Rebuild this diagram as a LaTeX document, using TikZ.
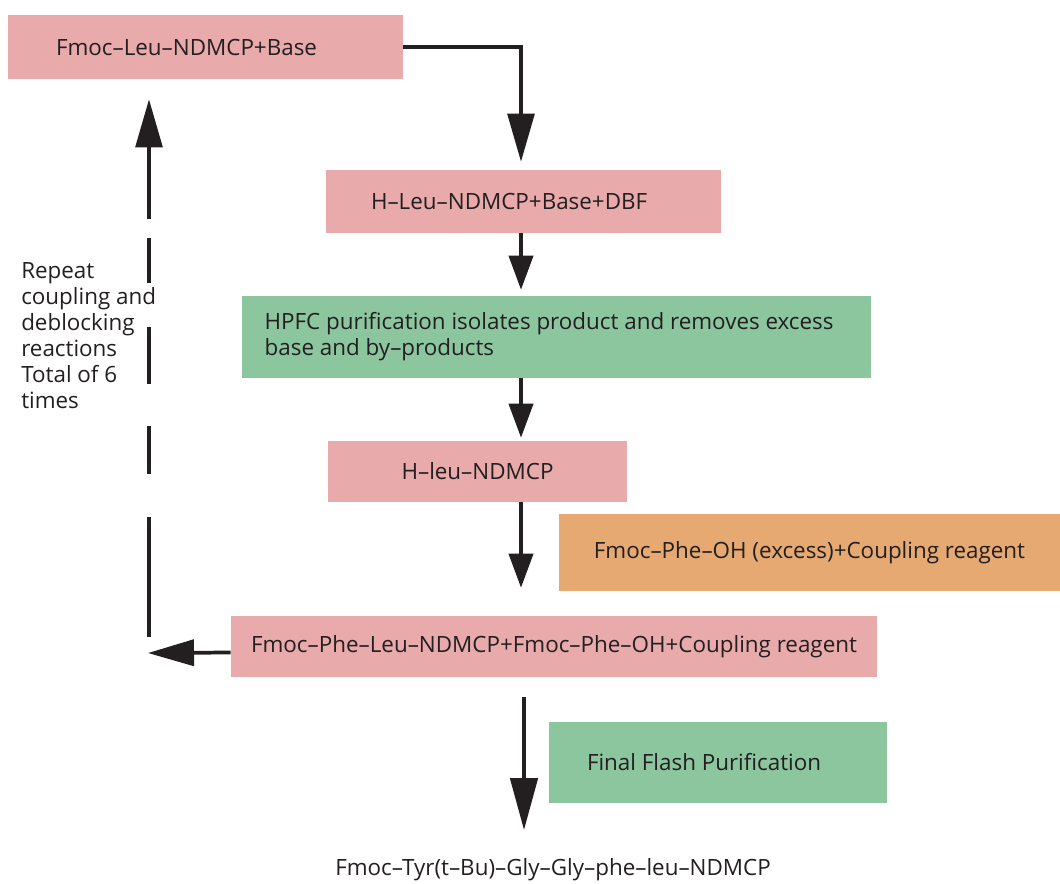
\documentclass[tikz,border=0pt]{standalone}
\usepackage{fontspec}
\setmainfont{Open Sans}
\usetikzlibrary{arrows.meta}

\definecolor{pinkbox}{RGB}{232,170,170}
\definecolor{greenbox}{RGB}{140,198,158}
\definecolor{orangebox}{RGB}{230,169,114}
\definecolor{ink}{RGB}{35,31,32}

\tikzset{
	box/.style={rectangle, inner sep=0pt, text=ink, font=\fontsize{16.8}{19.5}\selectfont},
	pbox/.style={box, fill=pinkbox},
	gbox/.style={box, fill=greenbox},
	obox/.style={box, fill=orangebox},
	note/.style={inner sep=0pt, text=ink, align=left, font=\fontsize{16.8}{19.5}\selectfont},
	line/.style={draw=ink, line width=2.8pt},
	tip/.style={-{Triangle[length=25.5pt, width=18pt]}},
	bigtip/.style={-{Triangle[length=36pt, width=20pt]}}
}

\begin{document}
\begin{tikzpicture}[x=0.75pt, y=-0.75pt]
				\useasboundingbox (0,0) rectangle (1060,883);
				\coordinate (spine) at (521,0);
				% reaction steps, top to bottom
				\node[pbox, text width=224.25pt, inner xsep=36pt, minimum height=48pt, align=flush left] (FLN)at(205.5, 47) {Fmoc--Leu--NDMCP+Base};
				\node[pbox, text width=228.75pt, inner xsep=33.75pt, minimum height=47.25pt, align=flush left] (HLN)at(523.5, 201.5) {H--Leu--NDMCP+Base+DBF};
				\node[gbox, text width=437.75pt, inner xsep=17pt, minimum height=61.5pt, align=flush left] (HPFC)at(556.5, 337) {HPFC purification isolates product and removes excess\\base and by--products};
				\node[pbox, minimum width=224.25pt, minimum height=45.75pt] (HL)at(477.5, 471.5) {H--leu--NDMCP};
				\node[obox, minimum width=375.75pt, minimum height=57.75pt] (FPO)at(809.5, 552.5) {Fmoc--Phe--OH (excess)+Coupling reagent};
				\node[pbox, minimum width=484.5pt, minimum height=45.75pt] (FPL)at(554, 646.5) {Fmoc--Phe--Leu--NDMCP+Fmoc--Phe--OH+Coupling reagent};
				\node[gbox, text width=196.5pt, inner xsep=28.5pt, minimum height=60.75pt, align=flush left] (FFP)at(718, 762.5) {Final Flash Purification};
				\node[box] (TYR)at(553, 870) {Fmoc--Tyr(t--Bu)--Gly--Gly--phe--leu--NDMCP};
				\node[note, anchor=north west] (RPT)at(21, 262) {Repeat\\coupling and\\deblocking\\reactions\\Total of 6\\times};
				% main flow
				\draw[line, bigtip] (FLN.east) -| ([yshift=6pt]HLN.north -| spine);
				\draw[line, tip] (HLN.south -| spine) -- ([yshift=4.5pt]HPFC.north -| spine);
				\draw[line, tip] (HPFC.south -| spine) -- ([yshift=2.25pt]HL.north -| spine);
				\draw[line, tip] (HL.south -| spine) -- ([yshift=21pt]FPL.north -| spine);
				\draw[line, -{Triangle[length=39pt, width=20.5pt]}, shorten <=15pt] ([xshift=2.25pt]FPL.south -| spine) -- ([xshift=2.25pt, yshift=21.4pt]TYR.north -| spine);
				% repeat loop back to the start
				\coordinate (loopend) at (148, 653);
				\coordinate (loopfoot) at (149, 637);
				\draw[line, -{Triangle[length=34.5pt, width=19.5pt]}] ([yshift=-4.5pt]FPL.west) -- (loopend);
				\draw[line, bigtip, dash pattern=on 90pt off 32.25pt on 36pt off 31.5pt on 42.75pt off 33pt on 33.75pt off 14.25pt on 150pt off 0pt] (loopfoot) -- ([yshift=-15pt]FLN.south -| loopfoot);
			\end{tikzpicture}
\end{document}
